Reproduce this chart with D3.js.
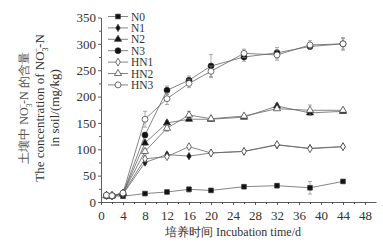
<!DOCTYPE html>
<html>
<head>
<meta charset="utf-8">
<script src="https://cdn.jsdelivr.net/npm/d3@7"></script>
<style>
  body { margin: 0; background: #fff; }
  svg text { font-family: "Liberation Serif", "DejaVu Serif", serif; fill: #222; }
</style>
</head>
<body>
<div id="chart"></div>
<script>
const days = [1, 2, 4, 8, 12, 16, 20, 26, 32, 38, 44];
const seriesNames = ['N0', 'N1', 'N2', 'N3', 'HN1', 'HN2', 'HN3'];
const n0 = [12, 11, 11, 16, 19, 24, 22, 29, 31, 27, 39];
const n1 = [12, 11, 15, 75, 90, 87, 93, 96, 108, 102, 105];
const n2 = [12, 12, 16, 112, 150, 157, 157, 161, 182, 169, 172];
const n3 = [12, 12, 16, 127, 212, 231, 258, 275, 283, 295, 300];
const hn1 = [13, 12, 16, 82, 86, 105, 93, 96, 109, 101, 105];
const hn2 = [12, 12, 17, 96, 140, 165, 158, 163, 177, 174, 174];
const hn3 = [13, 12, 17, 157, 196, 225, 248, 282, 279, 298, 300];
const n0Err = [2, 2, 2, 2, 2, 5, 2, 3, 4, 12, 2];
const n1Err = [1, 1, 1, 4, 3, 2, 2, 2, 3, 2, 2];
const n2Err = [1, 1, 1, 4, 4, 3, 3, 3, 4, 3, 3];
const n3Err = [1, 1, 2, 5, 8, 8, 22, 8, 10, 5, 10];
const hn1Err = [1, 1, 1, 5, 3, 3, 2, 2, 3, 2, 2];
const hn2Err = [1, 1, 1, 5, 6, 7, 3, 3, 3, 10, 3];
const hn3Err = [1, 1, 2, 15, 11, 8, 10, 8, 10, 8, 12];
const xTicks = d3.range(0, 49, 4);
const yTicks = d3.range(0, 351, 50);

const values = [n0, n1, n2, n3, hn1, hn2, hn3];
const errors = [n0Err, n1Err, n2Err, n3Err, hn1Err, hn2Err, hn3Err];
const symbols = [d3.symbolSquare, d3.symbolDiamond, d3.symbolTriangle, d3.symbolCircle,
                 d3.symbolDiamond, d3.symbolTriangle, d3.symbolCircle];
const symSize = [22, 16, 22, 28, 18, 22, 28];
const filled = [true, true, true, true, false, false, false];

const W = 383, H = 249;
const margin = { top: 17.5, right: 8, bottom: 47, left: 101 };

const svg = d3.select('#chart').append('svg')
    .attr('width', W)
    .attr('height', H);

const x = d3.scaleLinear().domain([0, 50]).range([margin.left, margin.left + 275]);
const y = d3.scaleLinear().domain([0, 350]).range([H - margin.bottom, margin.top]);

// axes
const xAxis = svg.append('g')
    .attr('transform', `translate(0,${y(0)})`)
    .call(d3.axisBottom(x).tickValues(xTicks).tickSize(3).tickSizeOuter(0));
svg.append('g')
    .attr('transform', `translate(0,${y(0)})`)
    .call(d3.axisBottom(x).tickValues(d3.range(2, 50, 4)).tickSize(2).tickFormat('').tickSizeOuter(0))
    .select('.domain').remove();
const yAxis = svg.append('g')
    .attr('transform', `translate(${x(0)},0)`)
    .call(d3.axisLeft(y).tickValues(yTicks).tickSize(3).tickSizeOuter(0));
svg.append('g')
    .attr('transform', `translate(${x(0)},0)`)
    .call(d3.axisLeft(y).tickValues(d3.range(25, 350, 50)).tickSize(2).tickFormat(''))
    .select('.domain').remove();

svg.selectAll('.domain, .tick line').attr('stroke', '#333').attr('stroke-width', 0.8);
xAxis.selectAll('.tick text').attr('font-size', 13).attr('dy', '0.95em').style('fill', '#333');
yAxis.selectAll('.tick text').attr('font-size', 13).attr('x', -5).style('fill', '#333');

// series
const line = d3.line()
    .x((d, i) => x(days[i]))
    .y(d => y(d));

values.forEach((vals, s) => {
    const g = svg.append('g');
    g.append('path')
        .datum(vals)
        .attr('fill', 'none')
        .attr('stroke', '#666')
        .attr('stroke-width', 0.8)
        .attr('d', line);

    g.selectAll('.err')
        .data(vals)
        .join('path')
        .attr('fill', 'none')
        .attr('stroke', '#888')
        .attr('stroke-width', 0.7)
        .attr('d', (d, i) => {
            const cx = x(days[i]);
            const e = errors[s][i];
            const y1 = y(d + e), y2 = y(d - e);
            return `M${cx - 2},${y1}H${cx + 2}M${cx},${y1}V${y2}M${cx - 2},${y2}H${cx + 2}`;
        });

    g.selectAll('.pt')
        .data(vals)
        .join('path')
        .attr('transform', (d, i) => `translate(${x(days[i])},${y(d)})`)
        .attr('d', d3.symbol().type(symbols[s]).size(symSize[s]))
        .attr('fill', filled[s] ? '#111' : '#fff')
        .attr('stroke', '#333')
        .attr('stroke-width', 0.7);
});

// legend
const legend = svg.append('g');
seriesNames.forEach((name, s) => {
    const ly = 16.5 + s * 11.4;
    legend.append('line')
        .attr('x1', 108).attr('x2', 128)
        .attr('y1', ly).attr('y2', ly)
        .attr('stroke', '#666').attr('stroke-width', 0.8);
    legend.append('path')
        .attr('transform', `translate(118,${ly})`)
        .attr('d', d3.symbol().type(symbols[s]).size(symSize[s]))
        .attr('fill', filled[s] ? '#111' : '#fff')
        .attr('stroke', '#333')
        .attr('stroke-width', 0.7);
    legend.append('text')
        .attr('x', 131)
        .attr('y', ly)
        .attr('dy', '0.35em')
        .attr('font-size', 11.5)
        .style('fill', '#333')
        .text(name);
});

// axis titles
svg.append('text')
    .attr('x', x(24))
    .attr('y', 236)
    .attr('text-anchor', 'middle')
    .attr('font-size', 12)
    .style('fill', '#333')
    .text('培养时间 Incubation time/d');

const ty = svg.append('g')
    .attr('transform', 'translate(0,108) rotate(-90)');
const t1 = ty.append('text')
    .attr('x', 0).attr('y', 28)
    .attr('text-anchor', 'middle')
    .attr('font-size', 12)
    .style('fill', '#555');
t1.append('tspan').text('土壤中 NO');
t1.append('tspan').attr('font-size', 8).attr('dy', 4).text('3');
t1.append('tspan').attr('font-size', 8).attr('dy', -9).attr('dx', -5).text('−');
t1.append('tspan').attr('dy', 5).text('-N 的含量');

const t2 = ty.append('text')
    .attr('x', 0).attr('y', 44)
    .attr('text-anchor', 'middle')
    .attr('font-size', 13)
    .style('fill', '#333');
t2.append('tspan').text('The concentration of NO');
t2.append('tspan').attr('font-size', 8).attr('dy', 4).text('3');
t2.append('tspan').attr('font-size', 8).attr('dy', -9).attr('dx', -5).text('−');
t2.append('tspan').attr('dy', 5).text('-N');

ty.append('text')
    .attr('x', 0).attr('y', 59)
    .attr('text-anchor', 'middle')
    .attr('font-size', 13)
    .style('fill', '#333')
    .text('in soil/(mg/kg)');
</script>
</body>
</html>
